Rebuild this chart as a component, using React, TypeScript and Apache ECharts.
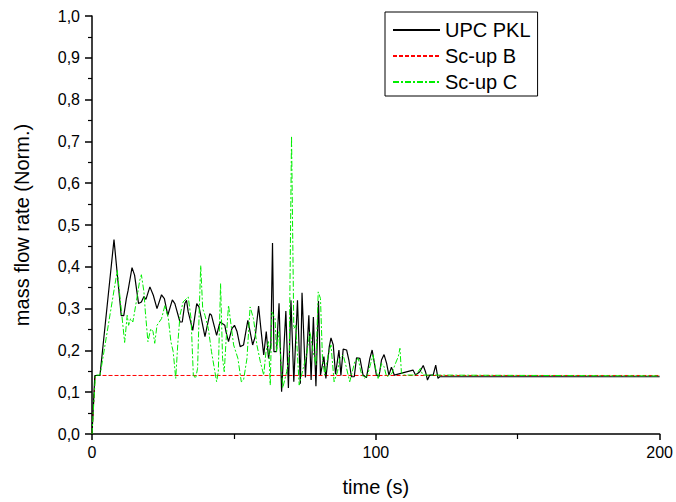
import React, { useEffect, useRef } from "react";
import * as echarts from "echarts";

const seriesNames = ["UPC PKL", "Sc-up B", "Sc-up C"];

// time (s), mass flow rate (Norm.)
const upcPklTime = [0, 1.0, 2.8, 7.75, 10.3, 11.2, 12.1, 12.7, 14.1, 15.0, 16.4, 17.4, 18.3, 19.0, 20.4, 21.6, 22.9, 24.5, 25.5, 26.7, 28.3, 29.2, 31.0, 31.8, 32.7, 33.3, 33.9, 35.5, 36.9, 37.7, 39.8, 41.5, 42.1, 43.9, 45.1, 46.8, 47.2, 48.1, 49.3, 50.2, 51.1, 52.2, 53.4, 54.9, 55.7, 56.6, 57.5, 58.7, 59.5, 60.5, 61.4, 62.2, 63.0, 63.6, 64.1, 65.0, 65.9, 66.8, 68.3, 69.2, 70.1, 71.1, 72.4, 73.4, 74.0, 75.2, 76.4, 77.2, 78.0, 78.9, 79.8, 80.5, 81.7, 82.4, 83.6, 84.2, 85.0, 85.8, 87.0, 87.7, 88.5, 89.7, 90.5, 91.4, 92.4, 93.2, 94.4, 95.5, 96.7, 97.9, 98.7, 99.4, 100.2, 101.1, 102.0, 102.9, 103.8, 104.6, 105.5, 106.5, 113.1, 114.0, 115.5, 116.7, 117.5, 118.2, 119.0, 120.2, 121.1, 121.9, 122.5, 200];
const upcPklValue = [0, 0.14, 0.14, 0.465, 0.283, 0.283, 0.324, 0.343, 0.398, 0.38, 0.312, 0.316, 0.329, 0.322, 0.352, 0.332, 0.3, 0.333, 0.324, 0.284, 0.321, 0.312, 0.268, 0.268, 0.312, 0.32, 0.292, 0.248, 0.312, 0.304, 0.233, 0.288, 0.284, 0.236, 0.268, 0.26, 0.245, 0.221, 0.252, 0.26, 0.245, 0.209, 0.213, 0.272, 0.245, 0.213, 0.233, 0.306, 0.252, 0.189, 0.245, 0.181, 0.213, 0.457, 0.197, 0.197, 0.313, 0.101, 0.294, 0.11, 0.32, 0.125, 0.32, 0.12, 0.338, 0.135, 0.284, 0.129, 0.28, 0.114, 0.318, 0.141, 0.185, 0.133, 0.209, 0.23, 0.213, 0.143, 0.201, 0.14, 0.203, 0.201, 0.177, 0.137, 0.137, 0.182, 0.181, 0.141, 0.135, 0.181, 0.201, 0.173, 0.141, 0.137, 0.177, 0.19, 0.169, 0.141, 0.16, 0.141, 0.153, 0.141, 0.149, 0.164, 0.149, 0.129, 0.141, 0.141, 0.165, 0.133, 0.137, 0.137];

const scUpBTime = [0, 1.1, 200];
const scUpBValue = [0, 0.14, 0.14];

const scUpCTime = [0, 1.2, 2.7, 2.9, 8.9, 11.5, 12.4, 12.9, 13.6, 14.4, 15.6, 16.8, 17.4, 18.3, 18.8, 19.7, 20.7, 21.5, 22.1, 22.9, 24.5, 25.7, 26.9, 27.8, 28.6, 29.5, 30.2, 31.0, 32.1, 33.9, 34.9, 35.7, 36.5, 37.2, 37.7, 38.3, 39.0, 39.8, 41.0, 42.1, 43.3, 43.9, 44.5, 45.3, 46.0, 46.6, 47.2, 48.1, 49.9, 51.4, 52.6, 53.4, 54.6, 55.7, 56.9, 58.1, 59.3, 60.5, 61.3, 62.2, 62.8, 63.4, 64.5, 65.0, 65.9, 67.2, 68.6, 69.5, 70.3, 71.1, 71.8, 73.0, 74.4, 75.6, 76.8, 77.9, 78.9, 79.7, 80.5, 81.2, 82.0, 83.2, 84.2, 85.3, 86.5, 87.3, 88.5, 89.7, 90.8, 92.6, 93.8, 94.7, 95.9, 97.1, 98.2, 99.0, 99.9, 100.8, 102.0, 102.9, 103.8, 104.9, 105.7, 106.7, 107.9, 108.5, 109.0, 109.5, 114.1, 114.9, 115.7, 116.5, 200];
const scUpCValue = [0, 0.141, 0.141, 0.143, 0.391, 0.219, 0.284, 0.26, 0.276, 0.268, 0.316, 0.367, 0.381, 0.34, 0.292, 0.221, 0.252, 0.245, 0.217, 0.26, 0.276, 0.308, 0.276, 0.221, 0.197, 0.133, 0.213, 0.284, 0.316, 0.328, 0.276, 0.141, 0.133, 0.157, 0.276, 0.403, 0.3, 0.284, 0.252, 0.197, 0.149, 0.125, 0.149, 0.36, 0.181, 0.149, 0.22, 0.308, 0.213, 0.181, 0.125, 0.129, 0.181, 0.304, 0.276, 0.213, 0.173, 0.141, 0.197, 0.221, 0.117, 0.292, 0.276, 0.197, 0.245, 0.11, 0.149, 0.189, 0.713, 0.252, 0.26, 0.117, 0.157, 0.189, 0.245, 0.197, 0.165, 0.34, 0.324, 0.181, 0.141, 0.189, 0.213, 0.125, 0.149, 0.181, 0.189, 0.157, 0.125, 0.173, 0.181, 0.149, 0.133, 0.141, 0.169, 0.189, 0.157, 0.133, 0.169, 0.161, 0.137, 0.141, 0.145, 0.165, 0.185, 0.205, 0.149, 0.141, 0.141, 0.149, 0.157, 0.141, 0.139];

const xAxisName = "time (s)";
const yAxisName = "mass flow rate (Norm.)";

const zip = (t: number[], v: number[]) => t.map((x, i) => [x, v[i]]);

const FONT = "'Liberation Sans', Arial, sans-serif";

export default function App() {
  const ref = useRef<HTMLDivElement>(null);
  useEffect(() => {
    if (!ref.current) return;
    const chart = echarts.init(ref.current, undefined, { renderer: "svg" });
    chart.setOption({
      animation: false,
      backgroundColor: "#ffffff",
      textStyle: { fontFamily: FONT },
      grid: { left: 92, top: 16, width: 568, height: 420 },
      legend: {
        orient: "vertical",
        left: 385,
        top: 12,
        padding: [8, 7, 4, 7],
        borderColor: "#000",
        borderWidth: 1,
        backgroundColor: "#fff",
        itemWidth: 47,
        itemHeight: 14,
        itemGap: 6,
        itemStyle: { opacity: 0 },
        textStyle: { fontSize: 20, color: "#000", fontFamily: FONT, lineHeight: 19 },
        data: seriesNames,
      },
      xAxis: {
        type: "value",
        min: 0,
        max: 200,
        interval: 100,
        name: xAxisName,
        nameLocation: "middle",
        nameGap: 43,
        nameTextStyle: { fontSize: 20, color: "#000", fontFamily: FONT },
        axisLine: { lineStyle: { color: "#000", width: 1.5 } },
        axisTick: { show: true, length: 6, lineStyle: { color: "#000", width: 1.5 } },
        minorTick: { show: true, splitNumber: 2, length: 5, lineStyle: { color: "#000", width: 1.2 } },
        axisLabel: { fontSize: 16, color: "#000", margin: 10, fontFamily: FONT },
        splitLine: { show: false },
      },
      yAxis: {
        type: "value",
        min: 0,
        max: 1,
        interval: 0.1,
        name: yAxisName,
        nameLocation: "middle",
        nameGap: 60,
        nameTextStyle: { fontSize: 20, color: "#000", fontFamily: FONT },
        axisLine: { show: true, lineStyle: { color: "#000", width: 1.5 } },
        axisTick: { show: true, length: 7, lineStyle: { color: "#000", width: 1.5 } },
        minorTick: { show: true, splitNumber: 2, length: 4, lineStyle: { color: "#000", width: 1.2 } },
        axisLabel: {
          fontSize: 16,
          color: "#000",
          margin: 12,
          fontFamily: FONT,
          formatter: (v: number) => v.toFixed(1).replace(".", ","),
        },
        splitLine: { show: false },
      },
      series: [
        {
          name: seriesNames[0],
          type: "line",
          symbol: "none",
          data: zip(upcPklTime, upcPklValue),
          lineStyle: { color: "#000", width: 1.2 },
          itemStyle: { color: "#000" },
          z: 3,
        },
        {
          name: seriesNames[1],
          type: "line",
          symbol: "none",
          data: zip(scUpBTime, scUpBValue),
          lineStyle: { color: "#ff0000", width: 1, type: [4, 2] },
          itemStyle: { color: "#ff0000" },
          z: 2,
        },
        {
          name: seriesNames[2],
          type: "line",
          symbol: "none",
          data: zip(scUpCTime, scUpCValue),
          lineStyle: { color: "#00ee00", width: 1, type: [6, 2, 2, 2] },
          itemStyle: { color: "#00ee00" },
          z: 4,
        },
      ],
    });
    return () => chart.dispose();
  }, []);
  return (
    <div
      ref={ref}
      style={{ position: "absolute", left: 0, top: 0, width: 676, height: 502 }}
    />
  );
}
